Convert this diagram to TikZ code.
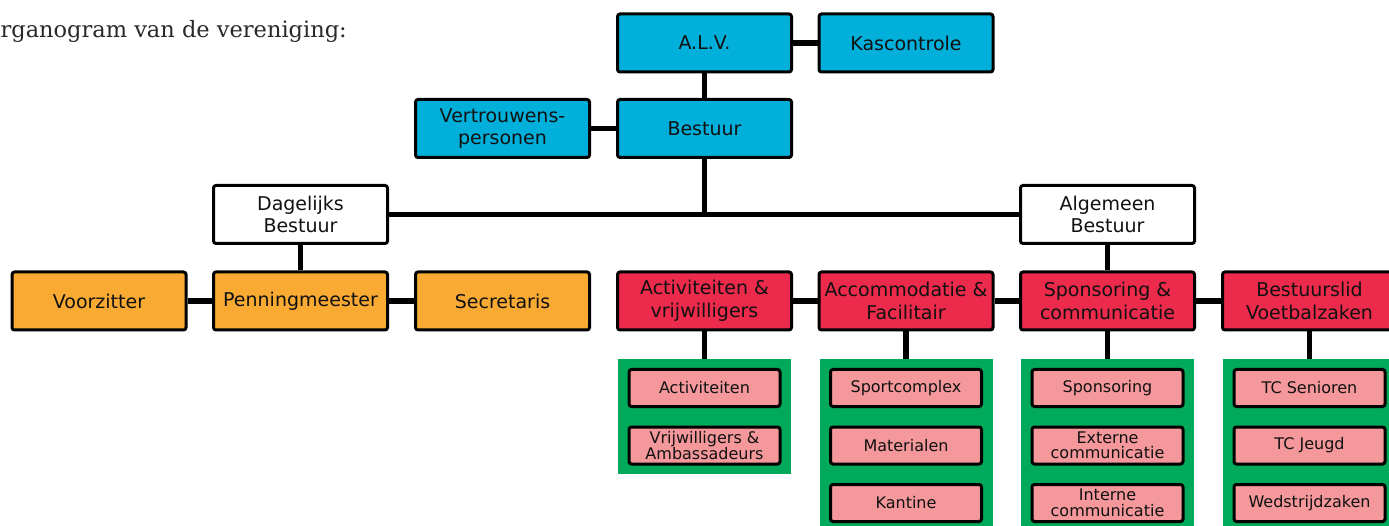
\documentclass[tikz,border=0pt]{standalone}
\usepackage{fontspec}
\setmainfont{DejaVu Sans}
\newfontfamily\titlefont{DejaVu Serif}
\definecolor{cblue}{HTML}{00AFDA}
\definecolor{corange}{HTML}{F9AA33}
\definecolor{cred}{HTML}{EC2A4B}
\definecolor{cpink}{HTML}{F4989B}
\definecolor{cgreen}{HTML}{00AA5A}
\definecolor{ctext}{HTML}{111111}
\begin{document}
\begin{tikzpicture}[x=1pt,y=-1pt,
  box/.style={draw=black, line width=3pt, rounded corners=2.5pt, minimum width=174pt, minimum height=58pt, inner sep=1pt, align=center, text=ctext, font=\fontsize{19}{22.5}\selectfont},
  bluebox/.style={box, fill=cblue},
  whitebox/.style={box, fill=white},
  orangebox/.style={box, fill=corange},
  redbox/.style={box, fill=cred},
  greenbg/.style={fill=cgreen, draw=none, minimum width=173pt, inner sep=0pt},
  pinkbox/.style={draw=black, line width=3pt, rounded corners=2.5pt, fill=cpink, minimum width=151pt, minimum height=37pt, inner sep=1pt, align=center, text=ctext, font=\fontsize{16}{15.5}\selectfont},
  link/.style={line width=5.5pt}]
\useasboundingbox (0,0) rectangle (1389,526);
\fill[white] (0,0) rectangle (1389,526);
\node[anchor=base east, inner sep=0pt, text=ctext!90, font=\titlefont\fontsize{22.5}{22.5}\selectfont] (title) at (347,38) {Organogram van de vereniging:};
% top
\node[bluebox] (alv) at (704.5,43) {A.L.V.};
\node[bluebox] (kas) at (906,43) {Kascontrole};
\node[bluebox] (vert) at (502.5,128.5) {Vertrouwens-\\personen};
\node[bluebox] (best) at (704.5,128.5) {Bestuur};
\node[whitebox] (dag) at (300.5,214.5) {Dagelijks\\Bestuur};
\node[whitebox] (alg) at (1107.5,214.5) {Algemeen\\Bestuur};
% orange
\node[orangebox] (voor) at (99,301) {Voorzitter};
\node[orangebox] (pen) at (300.5,301) {Penningmeester};
\node[orangebox] (sec) at (502.5,301) {Secretaris};
% red
\node[redbox] (act) at (704.5,301) {Activiteiten \&\\vrijwilligers};
\node[redbox] (acc) at (906,301) {Accommodatie \&\\Facilitair};
\node[redbox] (spo) at (1107.5,301) {Sponsoring \&\\communicatie};
\node[redbox] (bvz) at (1309.5,301) {Bestuurslid\\Voetbalzaken};
% green backgrounds
\node[greenbg, minimum height=115pt] (g1) at (704.5,416.5) {};
\node[greenbg, minimum height=172pt] (g2) at (906,445) {};
\node[greenbg, minimum height=172pt] (g3) at (1107.5,445) {};
\node[greenbg, minimum height=172pt] (g4) at (1309.5,445) {};
% pink
\node[pinkbox] (p11) at (704.5,388) {Activiteiten};
\node[pinkbox] (p12) at (704.5,445.5) {Vrijwilligers \&\\Ambassadeurs};
\node[pinkbox] (p21) at (906,388) {Sportcomplex};
\node[pinkbox] (p22) at (906,445.5) {Materialen};
\node[pinkbox] (p23) at (906,503) {Kantine};
\node[pinkbox] (p31) at (1107.5,388) {Sponsoring};
\node[pinkbox] (p32) at (1107.5,445.5) {Externe\\communicatie};
\node[pinkbox] (p33) at (1107.5,503) {Interne\\communicatie};
\node[pinkbox] (p41) at (1309.5,388) {TC Senioren};
\node[pinkbox] (p42) at (1309.5,445.5) {TC Jeugd};
\node[pinkbox] (p43) at (1309.5,503) {Wedstrijdzaken};
% connectors
\draw[link] (alv) -- (kas);
\draw[link] (alv) -- (best);
\draw[link] (vert) -- (best);
\draw[link] (dag) -- (alg);
\coordinate (spine) at (best.south |- dag.east);
\draw[link] (best.south) -- (spine);
\draw[link] (dag) -- (pen);
\draw[link] (voor) -- (pen);
\draw[link] (pen) -- (sec);
\draw[link] (alg) -- (spo);
\draw[link] (act) -- (acc);
\draw[link] (acc) -- (spo);
\draw[link] (spo) -- (bvz);
\draw[link] (act) -- (g1);
\draw[link] (acc) -- (g2);
\draw[link] (spo) -- (g3);
\draw[link] (bvz) -- (g4);
\end{tikzpicture}
\end{document}
